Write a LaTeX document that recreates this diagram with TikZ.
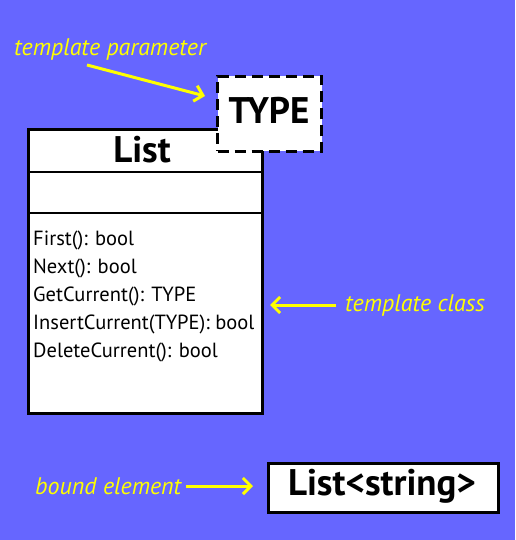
\documentclass[tikz,border=0pt]{standalone}
\usepackage{fontspec}
\setmainfont{PT Sans}
\usetikzlibrary{arrows.meta}
\definecolor{bg}{HTML}{6666FF}
\definecolor{note}{HTML}{FFFF00}
\tikzset{
  x=1pt, y=-1pt,
  notetext/.style={text=note, font=\fontsize{24}{28}\selectfont\itshape, inner sep=0pt, anchor=west},
  notearrow/.style={draw=note, line width=3pt, -{Straight Barb[length=8pt,width=16pt,line width=3pt]}},
  boxline/.style={draw=black, line width=3pt, fill=white},
  method/.style={font=\fontsize{20.5}{24}\selectfont, inner sep=0pt, anchor=west},
  bigname/.style={font=\fontsize{37}{40}\selectfont\bfseries, inner sep=0pt}
}
\begin{document}
\begin{tikzpicture}
\fill[bg] (0,0) rectangle (515,540);
\useasboundingbox (0,0) rectangle (515,540);
% class box
\node[boxline, minimum width=234pt, minimum height=284pt, anchor=north west, inner sep=0pt] (cls) at (27,128) {};
\draw[line width=2.5pt] (27,172) -- (261,172);
\draw[line width=2.5pt] (27,213) -- (261,213);
\node[bigname] (clsname) at (142,150) {List};
% template parameter
\node[boxline, dashed, dash pattern=on 11pt off 6pt, minimum width=104pt, minimum height=75pt, anchor=north west, inner sep=0pt] (tp) at (216,75) {};
\node[bigname] (tpname) at (269,110) {TYPE};
% methods
\node[method] (m1) at (33,240) {First(): bool};
\node[method] (m2) at (33,268) {Next(): bool};
\node[method] (m3) at (33,296) {GetCurrent(): TYPE};
\node[method] (m4) at (33,324) {InsertCurrent(TYPE): bool};
\node[method] (m5) at (33,352) {DeleteCurrent(): bool};
% bound element
\node[boxline, minimum width=230pt, minimum height=49pt, anchor=north west, inner sep=0pt] (be) at (267,462) {};
\node[bigname] (bename) at (382,486) {List<string>};
% notes
\node[notetext] (n1) at (14,50) {template parameter};
\node[notetext] (n2) at (345,305) {template class};
\node[notetext] (n3) at (35,486) {bound element};
\coordinate (a1s) at (87,65);
\coordinate (a1e) at (205,96);
\draw[notearrow] (a1s) -- (a1e);
\coordinate (a2s) at (336,305);
\coordinate (a2e) at (270,305);
\draw[notearrow] (a2s) -- (a2e);
\coordinate (a3s) at (186,486);
\coordinate (a3e) at (253,486);
\draw[notearrow] (a3s) -- (a3e);
\end{tikzpicture}
\end{document}
